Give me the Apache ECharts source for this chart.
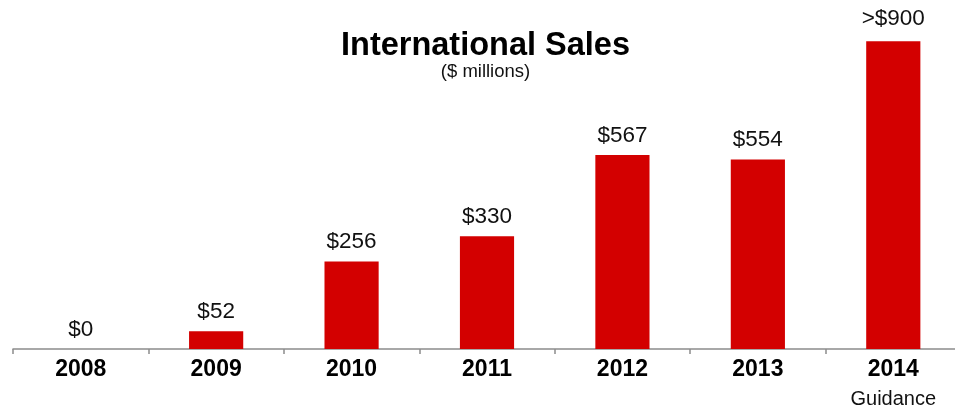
<!DOCTYPE html>
<html>
<head>
<meta charset="utf-8">
<script src="https://cdn.jsdelivr.net/npm/echarts@6/dist/echarts.min.js"></script>
<style>
  html, body { margin: 0; padding: 0; background: #ffffff; overflow: hidden; }
  /* the slide runs a little past the right edge of the window */
  #chart { width: 971px; height: 412px; }
</style>
</head>
<body>
<div id="chart"></div>
<script>
// International sales by year, $ millions
const years = ['2008', '2009', '2010', '2011', '2012', '2013', '2014'];
const sales = [0, 52, 256, 330, 567, 554, 900];
// Years whose figure is a forecast rather than an actual result
const guidanceYears = ['2014'];

const FONT = '"Liberation Sans", Arial, sans-serif';
const chart = echarts.init(document.getElementById('chart'), null, { renderer: 'canvas' });

chart.setOption({
  backgroundColor: '#ffffff',
  animation: false,
  title: [
    {
      text: 'International Sales',
      left: 'center',
      top: 28,
      padding: 0,
      textStyle: { fontFamily: FONT, fontSize: 32.5, fontWeight: 'bold', color: '#000', lineHeight: 36 }
    },
    {
      text: '($ millions)',
      left: 'center',
      top: 62,
      padding: 0,
      textStyle: { fontFamily: FONT, fontSize: 18.5, fontWeight: 'normal', color: '#111', lineHeight: 20 }
    }
  ],
  grid: { left: 13, right: 10, top: 7, bottom: 63 },
  xAxis: {
    type: 'category',
    data: years,
    boundaryGap: true,
    axisLine: { show: true, lineStyle: { color: '#8c8c8c', width: 1.5 } },
    axisTick: { show: true, length: 5, lineStyle: { color: '#8c8c8c', width: 1.5 } },
    axisLabel: {
      margin: 9,
      interval: 0,
      formatter: function (v) {
        return guidanceYears.indexOf(v) >= 0 ? '{y|' + v + '}\n{g|Guidance}' : '{y|' + v + '}';
      },
      rich: {
        y: { fontFamily: FONT, fontSize: 23, fontWeight: 'bold', color: '#000', lineHeight: 24 },
        g: { fontFamily: FONT, fontSize: 20, fontWeight: 'normal', color: '#111', lineHeight: 34 }
      }
    },
    splitLine: { show: false }
  },
  yAxis: {
    type: 'value',
    min: 0,
    max: 1000,
    show: false,
    splitLine: { show: false }
  },
  series: [
    {
      type: 'bar',
      barWidth: '40%',
      data: sales.map(function (v, i) {
        const guide = guidanceYears.indexOf(years[i]) >= 0;
        return { value: v, label: { distance: guide ? 11 : 8 } };
      }),
      itemStyle: { color: '#d30000' },
      label: {
        show: true,
        position: 'top',
        fontFamily: FONT,
        fontSize: 22.5,
        color: '#111',
        formatter: function (p) {
          const guide = guidanceYears.indexOf(years[p.dataIndex]) >= 0;
          return (guide ? '>$' : '$') + p.value;
        }
      }
    }
  ]
});
</script>
</body>
</html>
